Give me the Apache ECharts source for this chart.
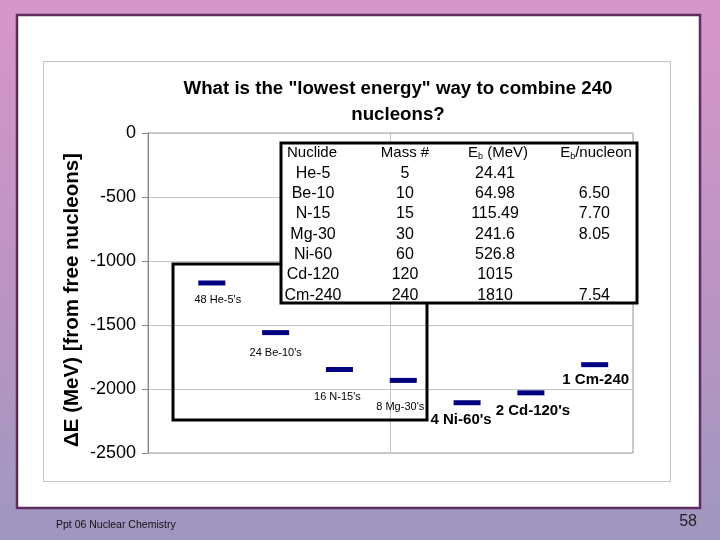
<!DOCTYPE html>
<html>
<head>
<meta charset="utf-8">
<script src="https://cdn.jsdelivr.net/npm/echarts@6/dist/echarts.min.js"></script>
<style>html,body{margin:0;padding:0;}#c{width:720px;height:540px;}</style>
</head>
<body>
<div id="c"></div>
<script>
// ---- data ----
const nuclides = ['He-5', 'Be-10', 'N-15', 'Mg-30', 'Ni-60', 'Cd-120', 'Cm-240'];
const massNumbers = ['5', '10', '15', '30', '60', '120', '240'];
const bindingEnergies = ['24.41', '64.98', '115.49', '241.6', '526.8', '1015', '1810'];
const perNucleon = ['', '6.50', '7.70', '8.05', '', '', '7.54'];
const xPositions = [1, 2, 3, 4, 5, 6, 7];
const deltaE = [-1171.7, -1559.5, -1847.8, -1932.8, -2107.2, -2030, -1810];
const pointLabels = ["48 He-5's", "24 Be-10's", "16 N-15's", "8 Mg-30's", "4 Ni-60's", "2 Cd-120's", "1 Cm-240"];
const yMin = -2500, yMax = 0, yStep = 500;
const titleLines = ['What is the "lowest energy" way to combine 240', 'nucleons?'];
const yAxisName = 'ΔE (MeV) [from free nucleons]';

// ---- styles (kept separate from data) ----
const labelStyles = [
  {off: [6, 17], bold: false}, {off: [0, 20], bold: false}, {off: [-2, 27], bold: false},
  {off: [-3, 27], bold: false}, {off: [-6, 17], bold: true}, {off: [2, 18], bold: true},
  {off: [1, 15], bold: true}
];
const FONT = 'Liberation Sans, Arial, sans-serif';

const seriesData = xPositions.map((x, i) => ({
  value: [x, deltaE[i]],
  label: {
    show: true, formatter: pointLabels[i], position: 'inside',
    offset: labelStyles[i].off, align: 'center', verticalAlign: 'middle',
    fontFamily: FONT, color: '#000',
    fontSize: labelStyles[i].bold ? 15 : 11,
    fontWeight: labelStyles[i].bold ? 'bold' : 'normal'
  }
}));

// table graphic
const tbl = {x: 281, y: 143, w: 356, h: 160};
const rowY0 = 153, rowH = 20.3;
const tableEls = [{
  type: 'rect', shape: {x: tbl.x, y: tbl.y, width: tbl.w, height: tbl.h},
  style: {fill: '#fff', stroke: '#000', lineWidth: 3}, z: 100
}];
const headStyle = {fontFamily: FONT, fontSize: 15, fill: '#000', verticalAlign: 'middle'};
tableEls.push({type: 'text', x: 287, y: rowY0, z: 101, style: Object.assign({}, headStyle, {text: 'Nuclide', align: 'left'})});
tableEls.push({type: 'text', x: 405, y: rowY0, z: 101, style: Object.assign({}, headStyle, {text: 'Mass #', align: 'center'})});
tableEls.push({type: 'text', x: 498, y: rowY0, z: 101, style: Object.assign({}, headStyle, {
  text: '{a|E}{s|b}{a| (MeV)}', align: 'center',
  rich: {a: {fontSize: 15, fontFamily: FONT}, s: {fontSize: 9, fontFamily: FONT, padding: [8, 0, 0, 0]}}
})});
tableEls.push({type: 'text', x: 596, y: rowY0, z: 101, style: Object.assign({}, headStyle, {
  text: '{a|E}{s|b}{a|/nucleon}', align: 'center',
  rich: {a: {fontSize: 15, fontFamily: FONT}, s: {fontSize: 9, fontFamily: FONT, padding: [8, 0, 0, 0]}}
})});
const cellStyle = {fontFamily: FONT, fontSize: 16, fill: '#000', verticalAlign: 'middle'};
nuclides.forEach((n, i) => {
  const y = rowY0 + rowH * (i + 1);
  tableEls.push({type: 'text', x: 313, y: y, z: 101, style: Object.assign({}, cellStyle, {text: n, align: 'center'})});
  tableEls.push({type: 'text', x: 405, y: y, z: 101, style: Object.assign({}, cellStyle, {text: massNumbers[i], align: 'center'})});
  tableEls.push({type: 'text', x: 495, y: y, z: 101, style: Object.assign({}, cellStyle, {text: bindingEnergies[i], align: 'center'})});
  if (perNucleon[i]) tableEls.push({type: 'text', x: 610, y: y, z: 101, style: Object.assign({}, cellStyle, {text: perNucleon[i], align: 'right'})});
});

const chart = echarts.init(document.getElementById('c'), null, {renderer: 'canvas'});
chart.setOption({
  animation: false,
  graphic: [
    {type: 'rect', shape: {x: 0, y: 0, width: 720, height: 540}, z: -100,
     style: {fill: new echarts.graphic.LinearGradient(0, 0, 0, 1, [
       {offset: 0, color: '#d896c8'}, {offset: 0.5, color: '#bd94c4'}, {offset: 1, color: '#9f97c0'}])}},
    {type: 'rect', shape: {x: 17, y: 15, width: 683, height: 493}, z: -99,
     style: {fill: '#ffffff', stroke: '#5e2c5e', lineWidth: 2.5}},
    {type: 'rect', shape: {x: 43.5, y: 61.5, width: 627, height: 420}, z: -98,
     style: {fill: '#ffffff', stroke: '#c4c4c4', lineWidth: 1}},
    {type: 'rect', shape: {x: 173, y: 264, width: 254, height: 156}, z: 50,
     style: {fill: 'none', stroke: '#000', lineWidth: 3}},
    {type: 'text', x: 56, y: 525, z: 10, style: {text: 'Ppt 06 Nuclear Chemistry', fontFamily: FONT, fontSize: 10.5, fill: '#111', verticalAlign: 'middle'}},
    {type: 'text', x: 697, y: 522, z: 10, style: {text: '58', fontFamily: FONT, fontSize: 16, fill: '#222', align: 'right', verticalAlign: 'middle'}},
    {type: 'text', x: 72, y: 300, rotation: Math.PI / 2, z: 10,
     style: {text: yAxisName, fontFamily: FONT, fontSize: 20.5, fontWeight: 'bold', fill: '#000', align: 'center', verticalAlign: 'middle'}}
  ].concat(tableEls),
  title: {
    text: titleLines.join('\n'), left: 393, top: 71, textAlign: 'center',
    textStyle: {fontFamily: FONT, fontSize: 18.7, fontWeight: 'bold', color: '#000', lineHeight: 26}
  },
  grid: {left: 148, top: 133, width: 485, height: 320, show: true, borderColor: '#9a9a9a', borderWidth: 1, backgroundColor: 'transparent'},
  xAxis: {
    type: 'value', min: 0, max: 7.6, interval: 3.8,
    axisLabel: {show: false}, axisTick: {show: false},
    axisLine: {show: false},
    splitLine: {show: true, lineStyle: {color: '#c4c4c4', width: 1}}
  },
  yAxis: {
    type: 'value', min: yMin, max: yMax, interval: yStep,
    axisLine: {show: true, lineStyle: {color: '#888', width: 1}},
    axisTick: {show: true, length: 6, lineStyle: {color: '#888'}},
    axisLabel: {fontFamily: FONT, fontSize: 18, color: '#000', margin: 12, formatter: v => String(v)},
    splitLine: {show: true, lineStyle: {color: '#c4c4c4', width: 1}}
  },
  series: [{
    type: 'scatter', symbol: 'rect', symbolSize: [27, 5],
    itemStyle: {color: '#000080', opacity: 1}, data: seriesData, z: 5
  }]
});
</script>
</body>
</html>
